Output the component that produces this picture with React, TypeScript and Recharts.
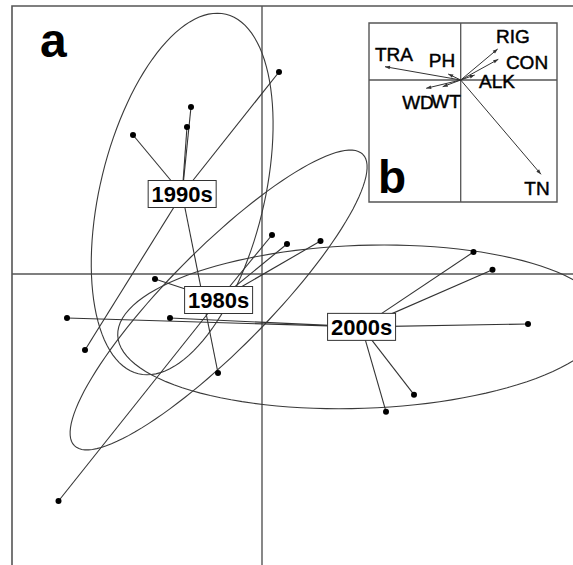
import React from 'react';
import { ScatterChart, Scatter, XAxis, YAxis, ReferenceLine, ReferenceArea, Customized } from 'recharts';

const FONT = '"Liberation Sans", Arial, Helvetica, sans-serif';

// ---- panel a: sample scores by decade ----
const groupNames = ['1980s', '1990s', '2000s'];
const x1980s = [0.10, 0.25, 0.585, -1.07, -2.035];
const y1980s = [0.39, 0.30, 0.33, -0.05, -2.27];
const x1990s = [0.17, -0.71, -0.75, -1.29, -1.77, -0.44];
const y1990s = [2.02, 1.67, 1.47, 1.39, -0.76, -0.99];
const x2000s = [-1.95, -0.92, 2.115, 2.305, 2.66, 1.52, 1.24];
const y2000s = [-0.44, -0.44, 0.22, 0.043, -0.50, -1.207, -1.377];
// dispersion ellipses: semi-axes and rotation (degrees)
const ellipseMajor = [2.05, 1.85, 2.44];
const ellipseMinor = [0.50, 0.82, 0.815];
const ellipseAngle = [45.3, 76.3, 2.0];

// ---- panel b: environmental variable arrows ----
const envNames = ['TRA', 'PH', 'RIG', 'CON', 'ALK', 'WD', 'WT', 'TN'];
const envX = [-0.757, -0.125, 0.37, 0.376, 0.14, -0.345, -0.18, 0.803];
const envY = [0.133, 0.06, 0.31, 0.207, 0.05, -0.083, -0.067, -0.943];
const envLabelX = [-0.667, -0.187, 0.523, 0.663, 0.363, -0.427, -0.147, 0.763];
const envLabelY = [0.26, 0.195, 0.443, 0.175, -0.01, -0.225, -0.21, -1.08];

const xsAll = [x1980s, x1990s, x2000s];
const ysAll = [y1980s, y1990s, y2000s];

const mean = (a: number[]) => a.reduce((s, v) => s + v, 0) / a.length;

const groups = groupNames.map((name, g) => {
  const pts = xsAll[g].map((x, i) => ({ x, y: ysAll[g][i] }));
  const cx = mean(xsAll[g]);
  const cy = mean(ysAll[g]);
  const th = (ellipseAngle[g] * Math.PI) / 180;
  const ell: { x: number; y: number }[] = [];
  const N = 120;
  for (let k = 0; k <= N; k++) {
    const t = (2 * Math.PI * k) / N;
    const a = ellipseMajor[g] * Math.cos(t);
    const b = ellipseMinor[g] * Math.sin(t);
    ell.push({ x: cx + a * Math.cos(th) - b * Math.sin(th), y: cy + a * Math.sin(th) + b * Math.cos(th) });
  }
  return { name, pts, cx, cy, ell };
});

const allPoints = groups.flatMap((g) => g.pts);
const centroids = groups.map((g) => ({ x: g.cx, y: g.cy, name: g.name }));

const arrows = envNames.map((name, i) => ({
  name,
  line: [
    { x: 0, y: 0, tip: false },
    { x: envX[i], y: envY[i], tip: true },
  ],
}));
const envLabels = envNames.map((name, i) => ({ x: envLabelX[i], y: envLabelY[i], name }));

const Empty = () => <g />;
const Dot = (p: any) => <circle cx={p.cx} cy={p.cy} r={3} fill="#000" />;
const LabelBox = (p: any) => (
  <g>
    <rect x={p.cx - 34} y={p.cy - 13.5} width={68} height={27} fill="#fff" stroke="#333" strokeWidth={1} />
    <text x={p.cx} y={p.cy + 8} textAnchor="middle" fontSize={22} fontWeight="bold" fontFamily={FONT} fill="#000">
      {p.payload.name}
    </text>
  </g>
);
const ArrowTip = (p: any) => {
  if (!p.payload || !p.payload.tip) return <g />;
  const ang = Math.atan2(-p.payload.y, p.payload.x);
  const L = 5;
  const W = 1.8;
  const bx = p.cx - L * Math.cos(ang);
  const by = p.cy - L * Math.sin(ang);
  const qx = -Math.sin(ang) * W;
  const qy = Math.cos(ang) * W;
  return <path d={`M${p.cx},${p.cy}L${bx + qx},${by + qy}L${bx - qx},${by - qy}Z`} fill="#333" />;
};
const EnvLabel = (p: any) => (
  <text
    x={p.cx}
    y={p.cy + 6.8}
    textAnchor="middle"
    fontSize={19}
    fontFamily={FONT}
    fill="#000"
    stroke="#000"
    strokeWidth={0.45}
  >
    {p.payload.name}
  </text>
);

export default function App() {
  return (
    <div style={{ position: 'absolute', left: 0, top: 0, width: 573, height: 565, overflow: 'hidden', background: '#fff' }}>
      <ScatterChart width={600} height={600} margin={{ top: 6, left: 12, right: 8, bottom: 16 }}>
        <XAxis type="number" dataKey="x" domain={[-2.5, 3.3]} hide allowDataOverflow />
        <YAxis type="number" dataKey="y" domain={[-3.1, 2.68]} hide allowDataOverflow />
        <ReferenceArea x1={-2.5} x2={3.3} y1={-3.1} y2={2.68} fill="none" fillOpacity={0} stroke="#555" strokeWidth={1.6} ifOverflow="visible" />
        <ReferenceLine x={0} stroke="#555" strokeWidth={1.4} />
        <ReferenceLine y={0} stroke="#555" strokeWidth={1.4} />
        {groups.map((g) => (
          <Scatter key={'e' + g.name} data={g.ell} line={{ stroke: '#3a3a3a', strokeWidth: 1.1 }} shape={Empty} isAnimationActive={false} />
        ))}
        {groups.flatMap((g) =>
          g.pts.map((p, i) => (
            <Scatter
              key={'s' + g.name + i}
              data={[{ x: g.cx, y: g.cy }, p]}
              line={{ stroke: '#333', strokeWidth: 1.1 }}
              shape={Empty}
              isAnimationActive={false}
            />
          ))
        )}
        <Scatter data={allPoints} shape={Dot} isAnimationActive={false} />
        <Scatter data={centroids} shape={LabelBox} isAnimationActive={false} />
        <Customized
          component={() => (
            <text x={40} y={57} fontSize={48} fontWeight="bold" fontFamily={FONT} fill="#000">
              a
            </text>
          )}
        />
      </ScatterChart>
      <div style={{ position: 'absolute', left: 0, top: 0 }}>
        <ScatterChart width={573} height={565} margin={{ top: 23, left: 369, right: 16, bottom: 363 }}>
          <XAxis type="number" dataKey="x" domain={[-0.917, 0.963]} hide allowDataOverflow />
          <YAxis type="number" dataKey="y" domain={[-1.22, 0.57]} hide allowDataOverflow />
          <ReferenceArea x1={-0.917} x2={0.963} y1={-1.22} y2={0.57} fill="none" fillOpacity={0} stroke="#555" strokeWidth={1.4} ifOverflow="visible" />
          <ReferenceLine x={0} stroke="#555" strokeWidth={1.3} />
          <ReferenceLine y={0} stroke="#555" strokeWidth={1.3} />
          {arrows.map((a) => (
            <Scatter key={'a' + a.name} data={a.line} line={{ stroke: '#333', strokeWidth: 1 }} shape={ArrowTip} isAnimationActive={false} />
          ))}
          <Scatter data={envLabels} shape={EnvLabel} isAnimationActive={false} />
          <Customized
            component={() => (
              <text x={378} y={193} fontSize={46} fontWeight="bold" fontFamily={FONT} fill="#000">
                b
              </text>
            )}
          />
        </ScatterChart>
      </div>
    </div>
  );
}
